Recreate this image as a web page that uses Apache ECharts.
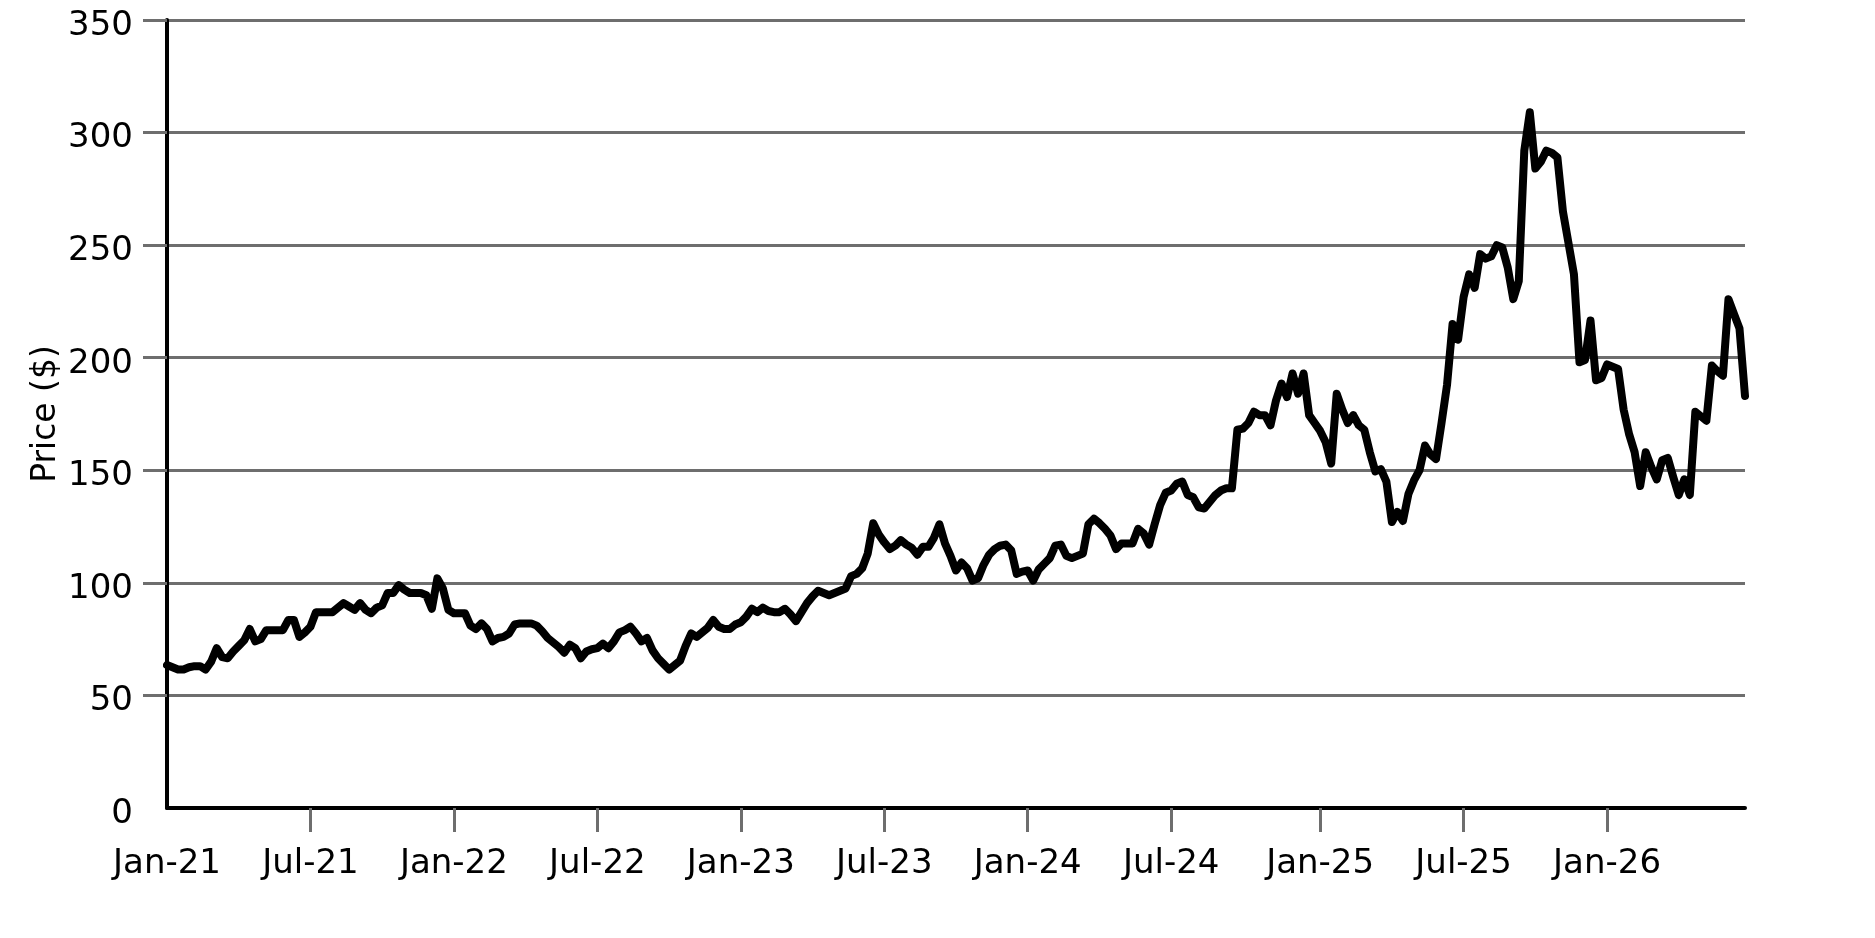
<!DOCTYPE html>
<html>
<head>
<meta charset="utf-8">
<title>Price</title>
<script src="https://cdn.jsdelivr.net/npm/echarts@6/dist/echarts.min.js"></script>
<style>
html, body { margin: 0; padding: 0; background: #ffffff; }
#price_chart { width: 1875px; height: 938px; }
</style>
</head>
<body>
<div id="price_chart"></div>
<script>
// weekly price ($), one array per 52-week block, first week starts 2021-01-01
var price2021 = [63.5, 62.5, 61.5, 61.5, 62.5, 63, 63, 61.5, 65, 71, 67, 66.5, 69.5, 72, 74.5, 79.5, 74, 75, 79, 79,
	79, 79, 83.5, 83.5, 76, 78, 80.5, 87, 87, 87, 87, 89, 91, 89.5, 88, 91, 88, 86.5, 89, 90,
	95.5, 95.5, 99, 97, 95.5, 95.5, 95.5, 94.5, 88.5, 102, 97.5, 88];
var price2022 = [86.5, 86.5, 86.5, 81, 79.5, 82, 79.5, 74, 75.5, 76, 77.5, 81.5, 82, 82, 82, 81, 78.5, 75.5, 73.5, 71.5,
	69, 72.5, 71, 66.5, 69.5, 70.5, 71, 73, 71, 74, 78, 79, 80.5, 77.5, 74, 75.5, 70, 66.5, 64, 61.5,
	63.5, 65.5, 72, 77.5, 76, 78, 80, 83.5, 80.5, 79.5, 79.5, 81.5];
var price2023 = [82.5, 85, 88.5, 87, 89, 87.5, 87, 87, 88.5, 86, 83, 87, 91, 94, 96.5, 95.5, 94.5, 95.5, 96.5, 97.5,
	103, 104, 106.5, 113, 126.5, 121.5, 118, 115, 116.5, 119, 117, 115.5, 112.5, 116, 116, 120, 126, 117.5, 112, 105.5,
	109, 106.5, 101, 102, 108, 112.5, 115, 116.5, 117, 114.5, 104, 105];
var price2024 = [105.5, 101, 106, 108.5, 111, 116.5, 117, 112, 111, 112, 113, 126, 128.5, 126.5, 124, 121, 115, 117.5, 117.5, 117.5,
	124, 122, 117, 126, 134.5, 140, 141, 144, 145, 139, 138, 133.5, 133, 136, 139, 141, 142, 142, 168, 168.5,
	171, 176, 174.5, 174.5, 170, 181, 188.5, 182.5, 193, 184, 193, 174.5];
var price2025 = [171, 167.5, 162.5, 153, 184, 177, 171, 174.5, 170, 168, 158, 149.5, 150.5, 145, 127, 131.5, 127.5, 139.5, 145.5, 150,
	161, 157, 155, 171, 188, 215, 208, 227, 237, 231, 246, 244, 245, 250, 249, 240, 226, 234, 292, 309,
	284, 287, 292, 291, 289, 265, 251, 237, 198, 199, 216.5, 190];
var price2026 = [191, 197, 196, 195, 177, 166, 158, 143, 158, 151.5, 146, 154.5, 155.5, 147, 139, 146, 139, 176, 174, 172,
	196.5, 194, 192, 226, 219.5, 213, 183];

var startDate = '2021-01-01';
var tickMonthNames = ['Jan', 'Jul'];
var tickMonthIndex = [0, 6];
var yMin = 0;
var yMax = 350;
var yStep = 50;

var DAY = 86400000;

function buildWeeks(start, n) {
	var t0 = Date.parse(start + 'T00:00:00Z');
	var out = new Array();
	for (var i = 0; i < n; i++) {
		out[i] = new Date(t0 + i * 7 * DAY).toISOString().slice(0, 10);
	}
	return out;
}

// label of the Jan/Jul 1st that falls in this week, otherwise null
function halfYearLabel(dateStr) {
	var t = Date.parse(dateStr + 'T00:00:00Z');
	var y = Number(dateStr.slice(0, 4));
	for (var yy = y; yy <= y + 1; yy++) {
		for (var k = 0; k < tickMonthIndex.length; k++) {
			var tm = Date.UTC(yy, tickMonthIndex[k], 1);
			if (Math.abs(t - tm) <= 3.5 * DAY) {
				return tickMonthNames[k] + '-' + String(yy).slice(2);
			}
		}
	}
	return null;
}

function isHalfYear(index, value) {
	return halfYearLabel(value) !== null;
}

// the first tick sits under the y axis and is hidden there
function isHalfYearTick(index, value) {
	return index > 0 && isHalfYear(index, value);
}

function set_price_chart() {
	var prices = price2021.concat(price2022, price2023, price2024, price2025, price2026);
	var weeks = buildWeeks(startDate, prices.length);
	var yTickValues = new Array();
	for (var v = yMin + yStep; v <= yMax; v += yStep) {
		yTickValues.push(v);
	}
	var chart = echarts.init(document.getElementById('price_chart'));
	var gridGrey = '#6e6e6e';
	var option = {
		animation : false,
		backgroundColor : '#ffffff',
		textStyle : {
			fontFamily : 'DejaVu Sans'
		},
		grid : {
			left : 167,
			right : 130,
			top : 20,
			bottom : 130
		},
		xAxis : {
			type : 'category',
			data : weeks,
			boundaryGap : false,
			axisLine : {
				lineStyle : {
					color : '#000000',
					width : 4
				}
			},
			axisTick : {
				interval : isHalfYearTick,
				length : 24,
				lineStyle : {
					color : gridGrey,
					width : 3
				}
			},
			axisLabel : {
				interval : isHalfYear,
				formatter : function(value) {
					return halfYearLabel(value) || '';
				},
				margin : 39,
				fontSize : 34,
				color : '#000000',
				fontFamily : 'DejaVu Sans'
			},
			splitLine : {
				show : false
			}
		},
		yAxis : {
			type : 'value',
			min : yMin,
			max : yMax,
			interval : yStep,
			name : 'Price ($)',
			nameLocation : 'middle',
			nameGap : 104,
			nameMoveOverlap : false,
			nameTextStyle : {
				fontSize : 33,
				color : '#000000',
				fontFamily : 'DejaVu Sans'
			},
			axisLine : {
				show : true,
				lineStyle : {
					color : '#000000',
					width : 4
				}
			},
			axisTick : {
				show : true,
				customValues : yTickValues,
				length : 24,
				lineStyle : {
					color : gridGrey,
					width : 3
				}
			},
			axisLabel : {
				margin : 34,
				color : '#000000',
				formatter : function(value) {
					return '{v|' + value + '}';
				},
				rich : {
					v : {
						fontSize : 34,
						fontFamily : 'DejaVu Sans',
						color : '#000000',
						padding : [ 12, 0, 0, 0 ]
					}
				}
			},
			splitLine : {
				lineStyle : {
					color : gridGrey,
					width : 3
				}
			}
		},
		series : [ {
			name : 'Price',
			type : 'line',
			data : prices,
			symbol : 'none',
			lineStyle : {
				color : '#000000',
				width : 8,
				cap : 'round',
				join : 'round'
			}
		} ]
	};
	chart.setOption(option);
}

set_price_chart();
</script>
</body>
</html>
